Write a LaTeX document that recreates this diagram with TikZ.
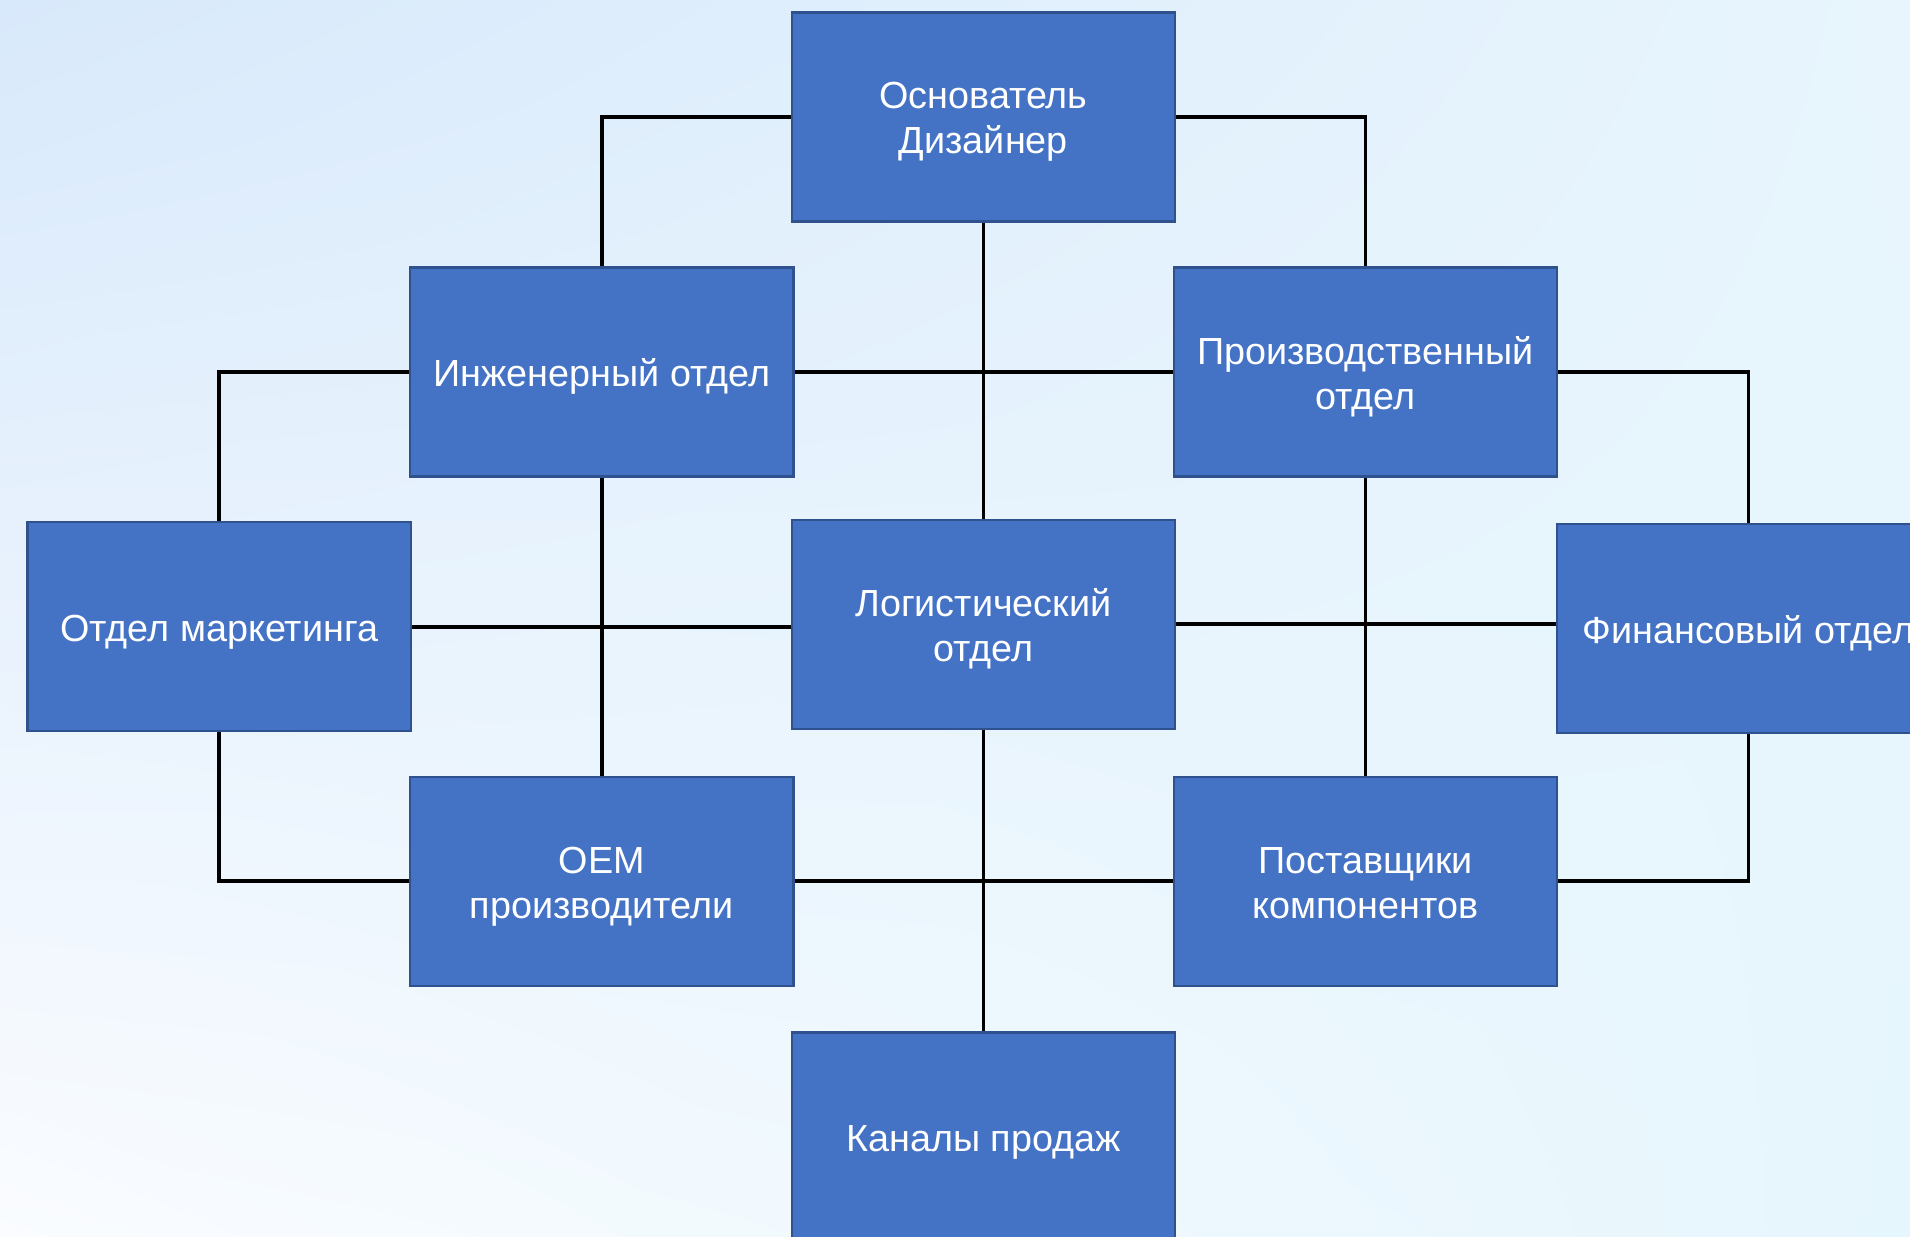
\documentclass[tikz,border=0pt]{standalone}
\usepackage{fontspec}
\setmainfont{Liberation Sans}
\usetikzlibrary{positioning,shadings}
\definecolor{boxfill}{HTML}{4472C4}
\definecolor{boxline}{HTML}{2F528F}
\definecolor{bgUL}{HTML}{D8E9FB}
\definecolor{bgUR}{HTML}{E8F5FD}
\definecolor{bgLL}{HTML}{FAFCFF}
\definecolor{bgLR}{HTML}{E6F6FD}
\newcommand\boxlines[1]{\raisebox{-2.25pt}[\height][\depth]{\begin{tabular}{@{}c@{}}#1\end{tabular}}}
\tikzset{
  orgbox/.style={draw=boxline, line width=1pt, fill=boxfill, text=white,
    minimum width=157.25pt, minimum height=85.75pt, inner sep=2pt,
    font=\fontsize{15.5pt}{18.5pt}\selectfont},
  link/.style={draw=black, line width=1.5pt}
}
\begin{document}
\begin{tikzpicture}[x=0.5pt,y=-0.5pt]
\useasboundingbox (0,0) rectangle (1568,1014.7);
\clip (0,0) rectangle (1568,1014.7);
\shade[upper left=bgUL, upper right=bgUR, lower left=bgLL, lower right=bgLR]
  (0,0) rectangle (1568,1014.7);
% nodes
\node[orgbox] (f)     at (807.3,96)    {\boxlines{Основатель\\Дизайнер}};
\node[orgbox] (eng)   at (494,305.5)   {\boxlines{Инженерный отдел}};
\node[orgbox] (prod)  at (1121,305.5)  {\boxlines{Производственный\\отдел}};
\node[orgbox] (mkt)   at (180,514.5)   {\boxlines{Отдел маркетинга}};
\node[orgbox] (log)   at (807.3,512.5) {\boxlines{Логистический\\отдел}};
\node[orgbox] (fin)   at (1435.5,516)  {\boxlines{Финансовый отдел}};
\node[orgbox] (oem)   at (494,723.5)   {\boxlines{OEM\\производители}};
\node[orgbox] (sup)   at (1121,723.5)  {\boxlines{Поставщики\\компонентов}};
\node[orgbox] (sales) at (807.3,933.5) {\boxlines{Каналы продаж}};
% connectors
\draw[link] (f.west) -| (eng.north);
\draw[link] (f.east) -| (prod.north);
\draw[link] (f.south) -- (log.north);
\draw[link] (eng.east) -- (prod.west);
\draw[link] (eng.west) -| (mkt.north);
\draw[link] (prod.east) -| (fin.north);
\draw[link] (eng.south) -- (oem.north);
\draw[link] (mkt.east) -- (mkt.east -| log.west);
\draw[link] (log.east) -- (log.east -| fin.west);
\draw[link] (prod.south) -- (sup.north);
\draw[link] (mkt.south) |- (oem.west);
\draw[link] (fin.south) |- (sup.east);
\draw[link] (log.south) -- (sales.north);
\draw[link] (oem.east) -- (sup.west);
\end{tikzpicture}
\end{document}
